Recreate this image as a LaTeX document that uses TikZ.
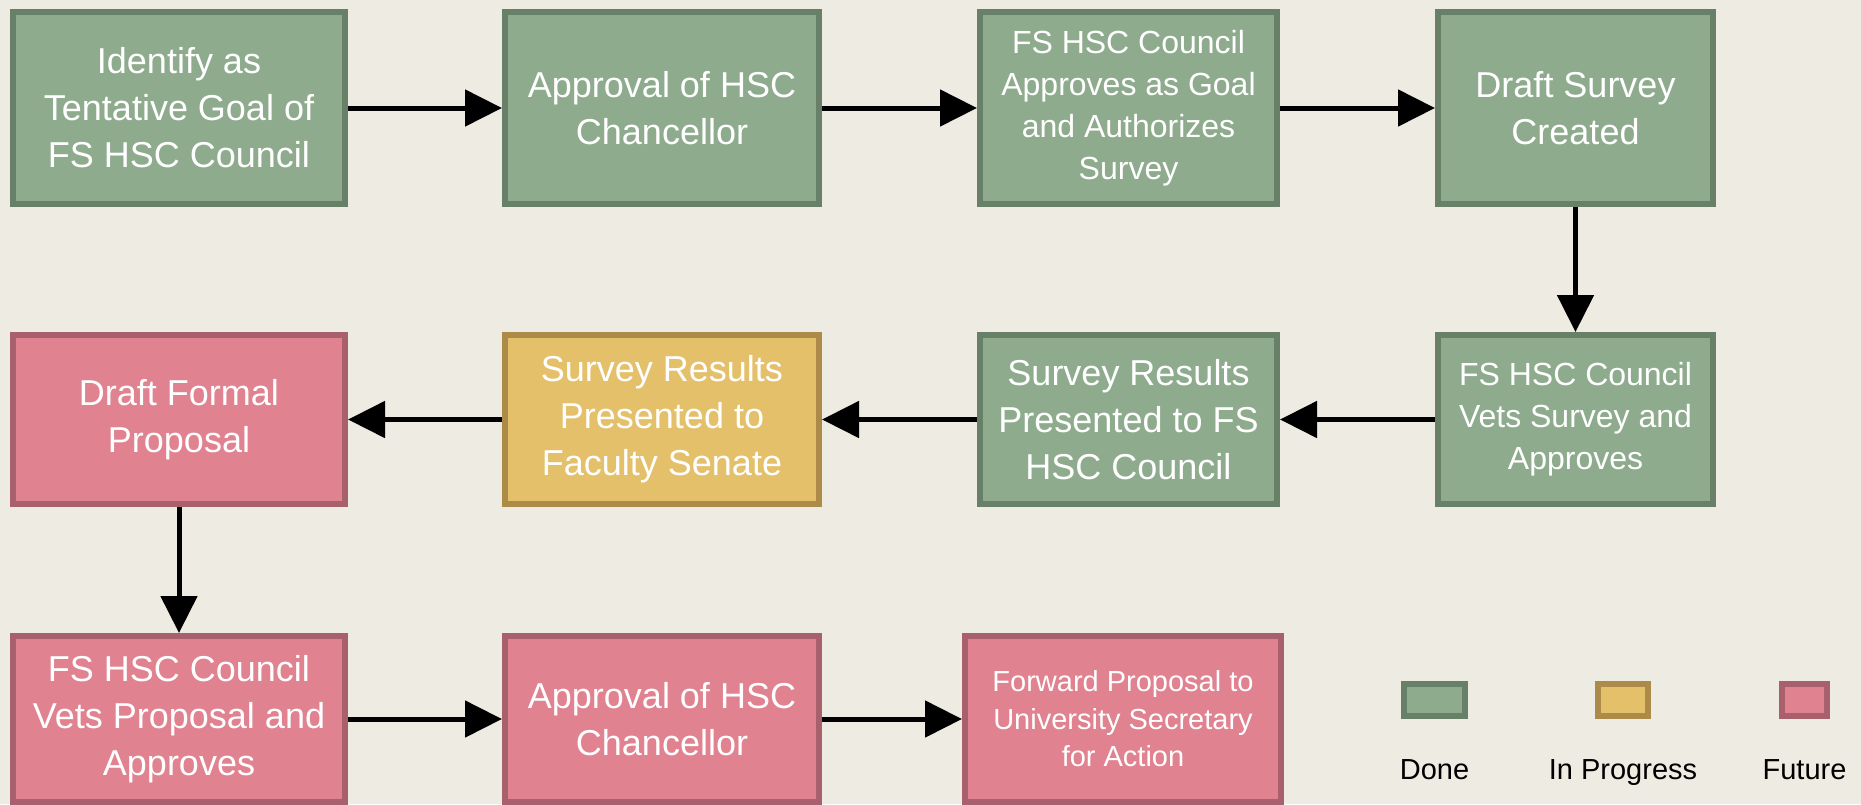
\documentclass[tikz,border=0pt]{standalone}
\usepackage{fontspec}
\setmainfont{Liberation Sans}
\usetikzlibrary{arrows.meta}

\definecolor{bgCol}{HTML}{EEEBE2}
\definecolor{doneFill}{HTML}{8EAB8E}
\definecolor{doneLine}{HTML}{688068}
\definecolor{progFill}{HTML}{E5C06A}
\definecolor{progLine}{HTML}{AC8B48}
\definecolor{futFill}{HTML}{E08290}
\definecolor{futLine}{HTML}{A8606C}

\tikzset{
	stepBox/.style={rectangle, line width=3pt, text=white, align=center, font=\fontsize{18pt}{23.5pt}\selectfont},
	doneBox/.style={stepBox, fill=doneFill, draw=doneLine},
	progBox/.style={stepBox, fill=progFill, draw=progLine},
	futBox/.style={stepBox, fill=futFill, draw=futLine},
	keyText/.style={anchor=base, text=black, font=\fontsize{14.5pt}{17pt}\selectfont}
}

\begin{document}
\begin{tikzpicture}[x=0.5pt, y=-0.5pt, >={Triangle[length=18.5pt, width=18pt]}]
		\useasboundingbox (0,0) rectangle (1861,804);
		\fill[bgCol] (0,0) rectangle (1861,804);

		% first row
		\node[doneBox, minimum width=166pt, minimum height=96pt](goalBox) at (179,108){Identify as\\Tentative Goal of\\FS HSC Council};
		\node[doneBox, minimum width=157pt, minimum height=96pt](chanOneBox) at (662,108){Approval of HSC\\Chancellor};
		\node[doneBox, minimum width=148.5pt, minimum height=96pt, font=\fontsize{16pt}{21pt}\selectfont](authBox) at (1128.5,108){FS HSC Council\\Approves as Goal\\and Authorizes\\Survey};
		\node[doneBox, minimum width=137.5pt, minimum height=96pt](draftBox) at (1575.5,108){Draft Survey\\Created};

		% second row
		\node[futBox, minimum width=166pt, minimum height=84.5pt](formalBox) at (179,419.5){Draft Formal\\Proposal};
		\node[progBox, minimum width=157pt, minimum height=84.5pt](senateBox) at (662,419.5){Survey Results\\Presented to\\Faculty Senate};
		\node[doneBox, minimum width=148.5pt, minimum height=84.5pt](councilBox) at (1128.5,419.5){Survey Results\\Presented to FS\\HSC Council};
		\node[doneBox, minimum width=137.5pt, minimum height=84.5pt, font=\fontsize{16pt}{21pt}\selectfont](vetsSurveyBox) at (1575.5,419.5){FS HSC Council\\Vets Survey and\\Approves};

		% third row
		\node[futBox, minimum width=166pt, minimum height=83pt](vetsPropBox) at (179,719){FS HSC Council\\Vets Proposal and\\Approves};
		\node[futBox, minimum width=157pt, minimum height=83pt](chanTwoBox) at (662,719){Approval of HSC\\Chancellor};
		\node[futBox, minimum width=158pt, minimum height=83pt, font=\fontsize{14.5pt}{18.75pt}\selectfont](forwardBox) at (1123,719){Forward Proposal to\\University Secretary\\for Action};

		% legend
		\node[doneBox, minimum width=30.5pt, minimum height=16pt](doneKey) at (1434.5,700){};
		\node[progBox, minimum width=25pt, minimum height=16pt](progKey) at (1623,700){};
		\node[futBox, minimum width=22.5pt, minimum height=16pt](futKey) at (1804.5,700){};
		\node[keyText](doneLabel) at (1434.5,779){Done};
		\node[keyText](progLabel) at (1623,779){In Progress};
		\node[keyText](futLabel) at (1804.5,779){Future};

		% draw flow edges
		\draw[->, line width=2.5pt] (goalBox) -- (chanOneBox);
		\draw[->, line width=2.5pt] (chanOneBox) -- (authBox);
		\draw[->, line width=2.5pt] (authBox) -- (draftBox);
		\draw[->, line width=2.5pt] (draftBox) -- (vetsSurveyBox);
		\draw[->, line width=2.5pt] (vetsSurveyBox) -- (councilBox);
		\draw[->, line width=2.5pt] (councilBox) -- (senateBox);
		\draw[->, line width=2.5pt] (senateBox) -- (formalBox);
		\draw[->, line width=2.5pt] (formalBox) -- (vetsPropBox);
		\draw[->, line width=2.5pt] (vetsPropBox) -- (chanTwoBox);
		\draw[->, line width=2.5pt] (chanTwoBox) -- (forwardBox);

	\end{tikzpicture}
\end{document}
